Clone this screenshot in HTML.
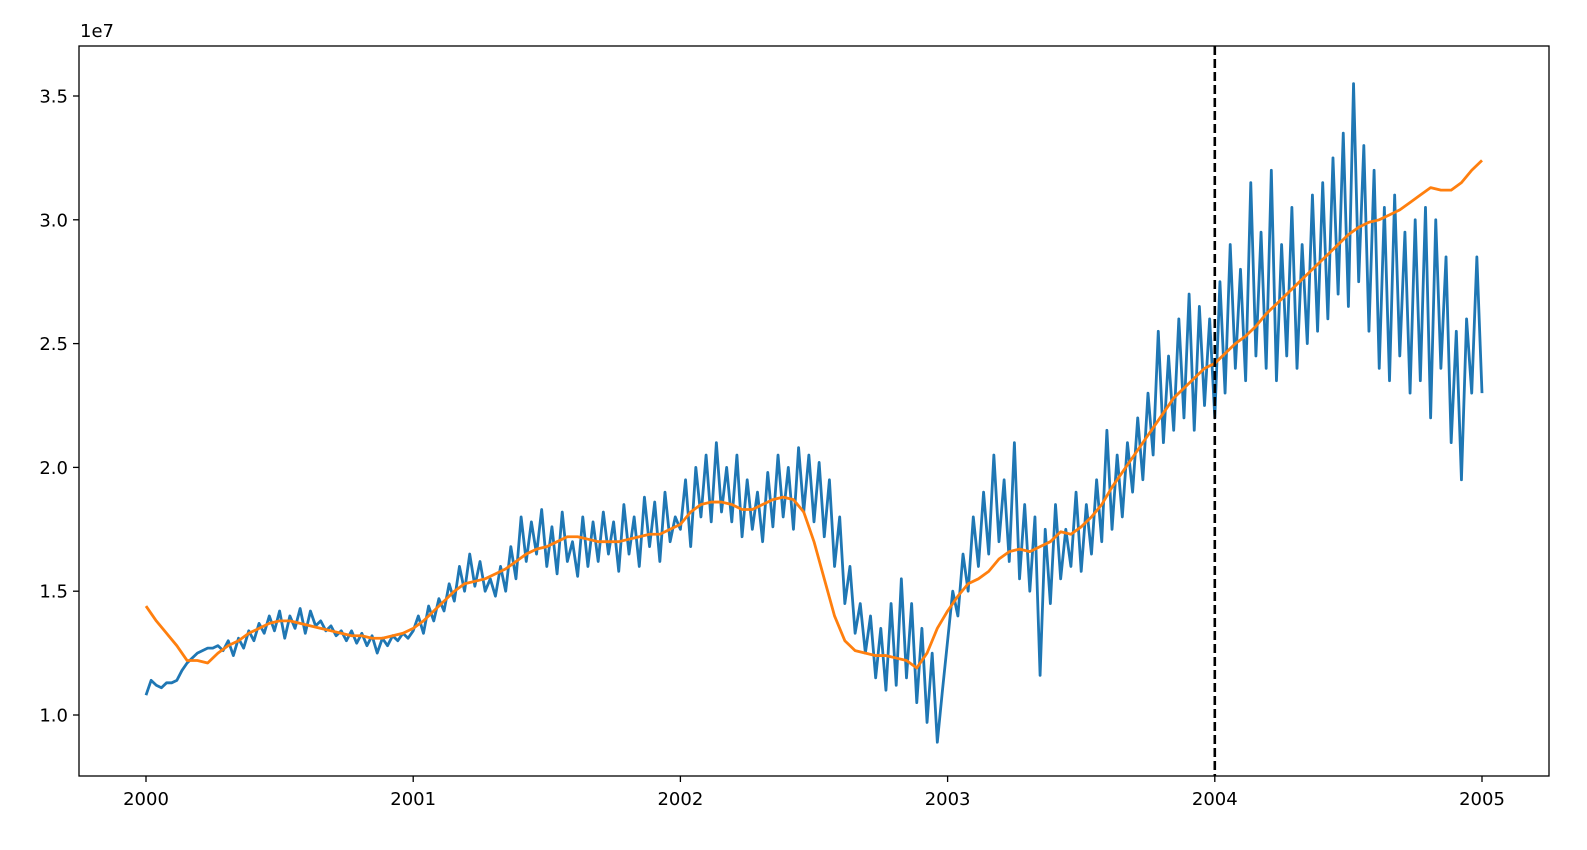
<!DOCTYPE html>
<html><head><meta charset="utf-8"><style>
html,body{margin:0;padding:0;background:#fff;}
svg{display:block;font-family:"DejaVu Sans","Liberation Sans",sans-serif;}
</style></head><body>
<svg id="chart" width="1587" height="850" viewBox="0 0 1587 850">
<rect x="0" y="0" width="1587" height="850" fill="#fff"/>
<g id="plot"></g>
<text x="80" y="37" font-size="18" fill="#000">1e7</text>
</svg>
<script>
const yearTicks = [2000, 2001, 2002, 2003, 2004, 2005];
const yTicks = [1.0, 1.5, 2.0, 2.5, 3.0, 3.5];
const yTickLabels = ["1.0", "1.5", "2.0", "2.5", "3.0", "3.5"];
const startYear = 2000;
const endYear = 2005;
const cutoffYear = 2004;
const actualValues = [
1.08,1.14,1.12,1.11,1.13,1.13,1.14,1.18,1.21,1.23,1.25,1.26,1.27,1.27,1.28,1.26,1.30,1.24,1.31,1.27,1.34,1.30,1.37,1.33,1.40,1.34,1.42,1.31,1.40,1.35,1.43,1.33,1.42,1.36,1.38,1.34,1.36,1.32,1.34,1.30,1.34,1.29,1.33,1.28,1.32,1.25,1.31,1.28,1.32,1.30,1.33,1.31,
1.34,1.40,1.33,1.44,1.38,1.47,1.42,1.53,1.46,1.60,1.50,1.65,1.52,1.62,1.50,1.55,1.48,1.60,1.50,1.68,1.55,1.80,1.62,1.78,1.65,1.83,1.60,1.76,1.57,1.82,1.62,1.70,1.56,1.80,1.60,1.78,1.62,1.82,1.65,1.78,1.58,1.85,1.65,1.80,1.60,1.88,1.68,1.86,1.62,1.90,1.70,1.80,
1.75,1.95,1.68,2.00,1.80,2.05,1.78,2.10,1.82,2.00,1.78,2.05,1.72,1.95,1.75,1.90,1.70,1.98,1.76,2.05,1.80,2.00,1.75,2.08,1.82,2.05,1.78,2.02,1.72,1.95,1.60,1.80,1.45,1.60,1.33,1.45,1.25,1.40,1.15,1.35,1.10,1.45,1.12,1.55,1.15,1.45,1.05,1.35,0.97,1.25,0.89,1.10,
1.30,1.50,1.40,1.65,1.50,1.80,1.60,1.90,1.65,2.05,1.70,1.95,1.62,2.10,1.55,1.85,1.50,1.80,1.16,1.75,1.45,1.85,1.55,1.75,1.60,1.90,1.58,1.85,1.65,1.95,1.70,2.15,1.75,2.05,1.80,2.10,1.90,2.20,1.95,2.30,2.05,2.55,2.10,2.45,2.15,2.60,2.20,2.70,2.15,2.65,2.25,2.60,
2.20,2.75,2.30,2.90,2.40,2.80,2.35,3.15,2.45,2.95,2.40,3.20,2.35,2.90,2.45,3.05,2.40,2.90,2.50,3.10,2.55,3.15,2.60,3.25,2.70,3.35,2.65,3.55,2.75,3.30,2.55,3.20,2.40,3.05,2.35,3.10,2.45,2.95,2.30,3.00,2.35,3.05,2.20,3.00,2.40,2.85,2.10,2.55,1.95,2.60,2.30,2.85,2.30
];
const trendValues = [
1.44,1.38,1.33,1.28,1.22,1.22,1.21,1.25,1.28,1.30,1.33,1.35,1.37,1.38,1.38,1.37,1.36,1.35,1.34,1.33,1.32,1.32,1.31,1.31,1.32,1.33,
1.35,1.38,1.42,1.46,1.50,1.53,1.54,1.55,1.57,1.59,1.62,1.65,1.67,1.68,1.70,1.72,1.72,1.71,1.70,1.70,1.70,1.71,1.72,1.73,1.73,1.75,
1.77,1.82,1.85,1.86,1.86,1.85,1.83,1.83,1.85,1.87,1.88,1.87,1.82,1.70,1.55,1.40,1.30,1.26,1.25,1.24,1.24,1.23,1.22,1.19,1.25,1.35,
1.42,1.48,1.53,1.55,1.58,1.63,1.66,1.67,1.66,1.68,1.70,1.74,1.73,1.76,1.80,1.85,1.92,1.98,2.04,2.10,2.16,2.22,2.28,2.32,2.36,2.40,
2.42,2.46,2.50,2.53,2.57,2.62,2.66,2.70,2.74,2.78,2.82,2.86,2.90,2.94,2.97,2.99,3.00,3.02,3.04,3.07,3.10,3.13,3.12,3.12,3.15,3.20,3.24
];

const NS = "http://www.w3.org/2000/svg";
const plot = document.getElementById("plot");
const L = 79, R = 1549, T = 46, B = 776;
function xScale(yr) { return 146 + (yr - 2000) * (1482 - 146) / 5; }
function yScale(v) { return 715 + (v - 1.0) * (96 - 715) / 2.5; }
function mk(tag, attrs) { const e = document.createElementNS(NS, tag); for (const k in attrs) e.setAttribute(k, attrs[k]); plot.appendChild(e); return e; }
function seriesPath(vals) {
  const n = vals.length;
  return vals.map((v, i) => (i ? "L" : "M") + xScale(startYear + i * (endYear - startYear) / (n - 1)).toFixed(2) + "," + yScale(v).toFixed(2)).join("");
}

const blue = mk("path", {d: seriesPath(actualValues), fill: "none", stroke: "#1f77b4", "stroke-width": 2.8, "stroke-linejoin": "round"});


const orange = mk("path", {d: seriesPath(trendValues), fill: "none", stroke: "#ff7f0e", "stroke-width": 2.8, "stroke-linejoin": "round"});


const vline = mk("line", {x1: xScale(cutoffYear), x2: xScale(cutoffYear), y1: T, y2: B, stroke: "#000", "stroke-width": 2.6, "stroke-dasharray": "9,4"});



const frame = mk("rect", {x: L, y: T, width: R - L, height: B - T, fill: "none", stroke: "#000", "stroke-width": 1.3});



yearTicks.forEach(yr => {
  const x = xScale(yr);
  const t = mk("line", {x1: x, x2: x, y1: B, y2: B + 6, stroke: "#000", "stroke-width": 1.3});
  
  
  const lb = mk("text", {x: x, y: B + 29, "font-size": 18, "text-anchor": "middle", fill: "#000"});
  lb.textContent = String(yr);
  
  
});
yTicks.forEach((v, i) => {
  const y = yScale(v);
  const t = mk("line", {x1: L - 6, x2: L, y1: y, y2: y, stroke: "#000", "stroke-width": 1.3});
  
  
  const lb = mk("text", {x: L - 11, y: y + 6.5, "font-size": 18, "text-anchor": "end", fill: "#000"});
  lb.textContent = yTickLabels[i];
  
  
});
</script>
</body></html>
